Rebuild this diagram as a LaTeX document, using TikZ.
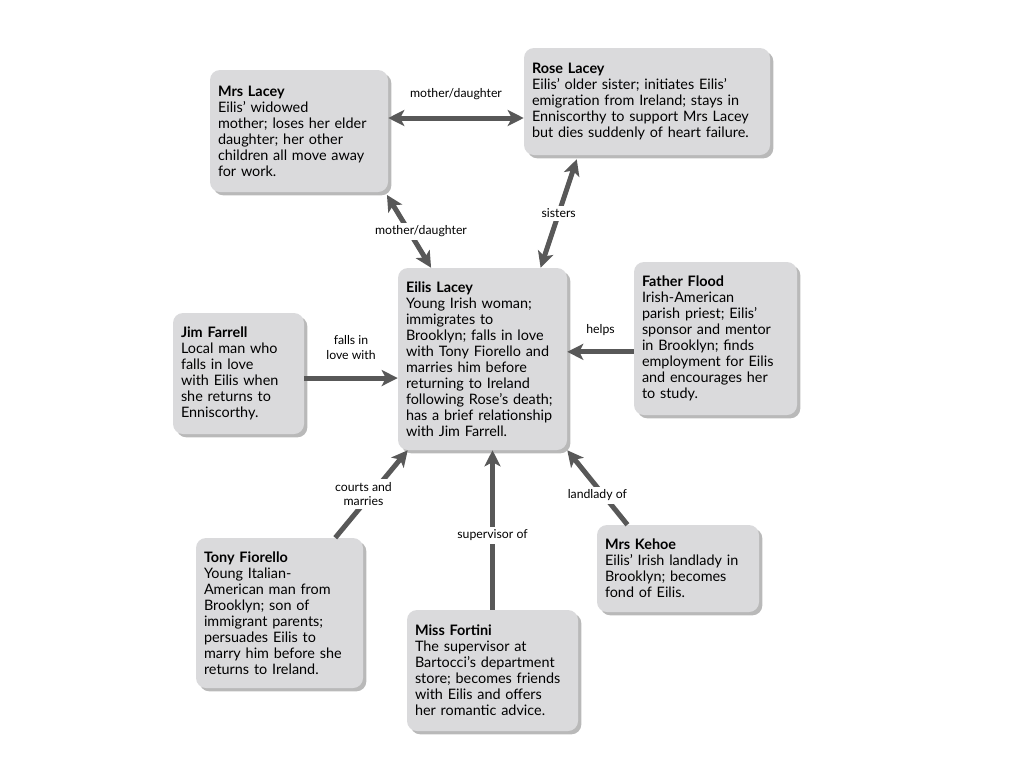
\documentclass[tikz,border=0pt]{standalone}
\usepackage{fontspec}
\setmainfont{Lato}
\usetikzlibrary{arrows.meta,shadows}

\definecolor{boxgray}{RGB}{218,218,220}
\definecolor{arrowgray}{RGB}{88,88,88}

\tikzset{
  person/.style = {fill = boxgray, rounded corners = 7.5pt,
    drop shadow = {shadow xshift = 2.5pt, shadow yshift = -2.5pt,
      fill = black!50, opacity = 0.55},
    align = left, inner xsep = 6pt, inner ysep = 7pt,
    font = \fontsize{10.8}{12}\selectfont},
  rel/.style = {draw = arrowgray, line width = 3.75pt, -{Stealth[length = 12pt, width = 12pt, inset = 3pt]}},
  twoway/.style = {draw = arrowgray, line width = 3.75pt,
    {Stealth[length = 12pt, width = 12pt, inset = 3pt]}-{Stealth[length = 12pt, width = 12pt, inset = 3pt]}},
  rellabel/.style = {font = \fontsize{9.2}{11}\selectfont, align = center, inner sep = 2pt},
  cutlabel/.style = {rellabel, fill = white}
}

\begin{document}
\begin{tikzpicture}[x = 0.75pt, y = -0.75pt]
  \useasboundingbox (0, 0) rectangle (1024, 768);

  % the people
  \node[person, text width = 121.5pt, minimum height = 91.5pt] (mrs) at (299, 131)
    {\textbf{Mrs Lacey}\\Eilis’ widowed\\mother; loses her elder\\daughter; her other\\children all move away\\for work.};
  \node[person, text width = 172.5pt, minimum height = 80.25pt] (rose) at (647, 101.5)
    {\textbf{Rose Lacey}\\Eilis’ older sister; initiates Eilis’\\emigration from Ireland; stays in\\Enniscorthy to support Mrs Lacey\\but dies suddenly of heart failure.};
  \node[person, text width = 114.75pt, minimum height = 136.5pt] (eilis) at (482.5, 359)
    {\textbf{Eilis Lacey}\\Young Irish woman;\\immigrates to\\Brooklyn; falls in love\\with Tony Fiorello and\\marries him before\\returning to Ireland\\following Rose’s death;\\has a brief relationship\\with Jim Farrell.};
  \node[person, text width = 86.25pt, minimum height = 90.75pt] (jim) at (238.5, 373.5)
    {\textbf{Jim Farrell}\\Local man who\\falls in love\\with Eilis when\\she returns to\\Enniscorthy.};
  \node[person, text width = 110.25pt, minimum height = 114.75pt] (flood) at (715.5, 338.5)
    {\textbf{Father Flood}\\Irish-American\\parish priest; Eilis’\\sponsor and mentor\\in Brooklyn; finds\\employment for Eilis\\and encourages her\\to study.};
  \node[person, text width = 113.25pt, minimum height = 112.5pt] (tony) at (279.5, 613)
    {\textbf{Tony Fiorello}\\Young Italian-\\American man from\\Brooklyn; son of\\immigrant parents;\\persuades Eilis to\\marry him before she\\returns to Ireland.};
  \node[person, text width = 116.25pt, minimum height = 90.75pt] (fortini) at (492.5, 670.5)
    {\textbf{Miss Fortini}\\The supervisor at\\Bartocci’s department\\store; becomes friends\\with Eilis and offers\\her romantic advice.};
  \node[person, text width = 109.5pt, minimum height = 65.25pt] (kehoe) at (678, 568.5)
    {\textbf{Mrs Kehoe}\\Eilis’ Irish landlady in\\Brooklyn; becomes\\fond of Eilis.};

  % the relations
  \draw[twoway] ([yshift = 9.75pt]mrs.east) -- ([yshift = 9.75pt]mrs.east -| rose.west)
    node[rellabel, midway, above = 10pt] {mother/daughter};
  \draw[twoway] ([xshift = -1pt, yshift = -2pt]mrs.south east) -- ([xshift = 25pt]eilis.north west)
    node[cutlabel, midway, xshift = 9pt] {mother/daughter};
  \draw[twoway] ([xshift = 39.75pt, yshift = -3pt]rose.south west) -- ([xshift = -20pt]eilis.north east)
    node[cutlabel, midway] {sisters};
  \draw[rel] ([yshift = -3.4pt]jim.east) -- ([yshift = -3.4pt]jim.east -| eilis.west)
    node[rellabel, midway, above = 10pt] {falls in\\love with};
  \draw[rel] ([yshift = -10pt]flood.west) -- ([yshift = -10pt]flood.west -| eilis.east)
    node[rellabel, midway, above = 8pt] {helps};
  \draw[rel] ([xshift = -21pt]tony.north east) -- ([xshift = 7.5pt]eilis.south west)
    node[cutlabel, midway, xshift = -6pt] {courts and\\marries};
  \draw[rel] (fortini.north) -- (fortini.north |- eilis.south)
    node[cutlabel, midway, yshift = -4pt] {supervisor of};
  \draw[rel] ([xshift = 23pt]kehoe.north west) -- (eilis.south east)
    node[cutlabel, midway, yshift = -6pt] {landlady of};
\end{tikzpicture}
\end{document}
